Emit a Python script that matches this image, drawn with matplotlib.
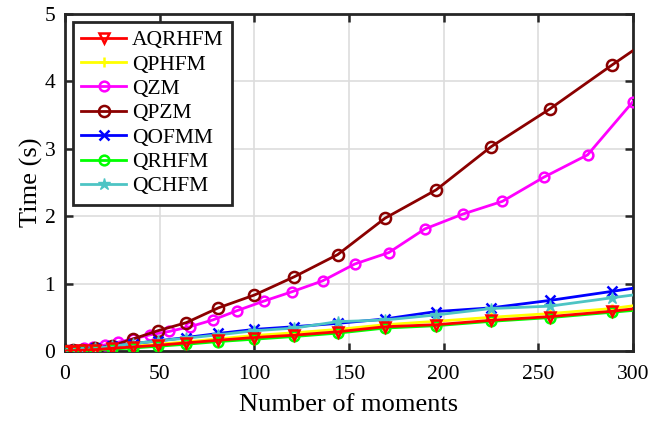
import numpy as np
import matplotlib
matplotlib.use("Agg")
import matplotlib.pyplot as plt

plt.rcParams['font.family'] = ['Liberation Serif', 'DejaVu Serif']
plt.rcParams['mathtext.fontset'] = 'stix'

# number of moments: squares for most methods, triangular numbers for QZM
x_sq = [1, 4, 9, 16, 25, 36, 49, 64, 81, 100, 121, 144, 169, 196, 225, 256, 289, 324]
x_tri = [1, 3, 6, 10, 15, 21, 28, 36, 45, 55, 66, 78, 91, 105, 120, 136, 153,
         171, 190, 210, 231, 253, 276, 300]

aqrhfm = [0.002, 0.005, 0.01, 0.02, 0.04, 0.06, 0.085, 0.12, 0.16, 0.20, 0.235,
          0.285, 0.36, 0.39, 0.455, 0.51, 0.59, 0.70]
qphfm = [0.003, 0.006, 0.012, 0.025, 0.045, 0.07, 0.10, 0.135, 0.18, 0.23, 0.27,
         0.32, 0.39, 0.44, 0.50, 0.555, 0.63, 0.76]
qzm = [0.005, 0.01, 0.02, 0.04, 0.06, 0.09, 0.13, 0.18, 0.24, 0.29, 0.36, 0.46,
       0.60, 0.74, 0.88, 1.04, 1.29, 1.46, 1.81, 2.03, 2.22, 2.58, 2.91, 3.70]
qpzm = [0.005, 0.01, 0.02, 0.04, 0.08, 0.18, 0.30, 0.42, 0.64, 0.83, 1.10, 1.43,
        1.97, 2.39, 3.03, 3.59, 4.245, 4.92]
qofmm = [0.005, 0.01, 0.02, 0.04, 0.07, 0.11, 0.15, 0.20, 0.26, 0.32, 0.36, 0.41,
         0.475, 0.585, 0.64, 0.75, 0.885, 1.03]
qrhfm = [0.002, 0.004, 0.008, 0.015, 0.03, 0.045, 0.07, 0.10, 0.14, 0.175, 0.215,
         0.265, 0.34, 0.375, 0.44, 0.495, 0.575, 0.66]
qchfm = [0.005, 0.01, 0.02, 0.04, 0.07, 0.11, 0.15, 0.19, 0.24, 0.30, 0.34, 0.435,
         0.46, 0.535, 0.63, 0.665, 0.79, 0.92]

fig = plt.figure(figsize=(6.66, 4.21), dpi=100)
ax = fig.add_axes([0.0976, 0.1663, 0.8529, 0.8005])

mk = dict(linewidth=2, markersize=7, markeredgewidth=1.8)
ax.plot(x_sq, aqrhfm, color='#ff0000', marker='v', markerfacecolor='none',
        label='AQRHFM', zorder=9, **mk)
ax.plot(x_sq, qphfm, color='#ffff00', marker='+', label='QPHFM', zorder=6, **mk)
ax.plot(x_tri, qzm, color='#ff00ff', marker='o', markerfacecolor='none',
        label='QZM', zorder=4, **mk)
ax.plot(x_sq, qpzm, color='#8b0000', marker='o', markerfacecolor='none',
        markersize=8, linewidth=2, markeredgewidth=1.8, label='QPZM', zorder=5)
ax.plot(x_sq, qofmm, color='#0000ff', marker='x', label='QOFMM', zorder=7, **mk)
ax.plot(x_sq, qrhfm, color='#00ff00', marker='o', markerfacecolor='none',
        label='QRHFM', zorder=8, **mk)
ax.plot(x_sq, qchfm, color='#4dc4c4', marker='*', label='QCHFM', zorder=7.5,
        linewidth=2, markersize=9)

ax.set_xlim(0, 300)
ax.set_ylim(0, 5)
ax.set_xticks([0, 50, 100, 150, 200, 250, 300])
ax.set_yticks([0, 1, 2, 3, 4, 5])
ax.grid(True, color='#dddddd', linewidth=1.2)
ax.set_axisbelow(True)
ax.tick_params(direction='in', top=True, right=True, length=6, width=1.8,
               labelsize=15.5, colors='#262626', labelcolor='black')
ax.tick_params(axis='x', pad=10)
ax.tick_params(axis='y', pad=7)
for s in ax.spines.values():
    s.set_linewidth(2)
    s.set_color('#262626')

ax.set_xlabel('Number of moments', fontsize=19, labelpad=7)
ax.set_ylabel('Time (s)', fontsize=19, labelpad=1)

leg = ax.legend(loc='upper left', fontsize=15.5, handlelength=2.1, handletextpad=0.25,
                labelspacing=0.2, borderpad=0.4, borderaxespad=0.35,
                fancybox=False, framealpha=1)
leg.get_frame().set_edgecolor('#262626')
leg.get_frame().set_linewidth(2)

fig.savefig('out.png', dpi=100)
